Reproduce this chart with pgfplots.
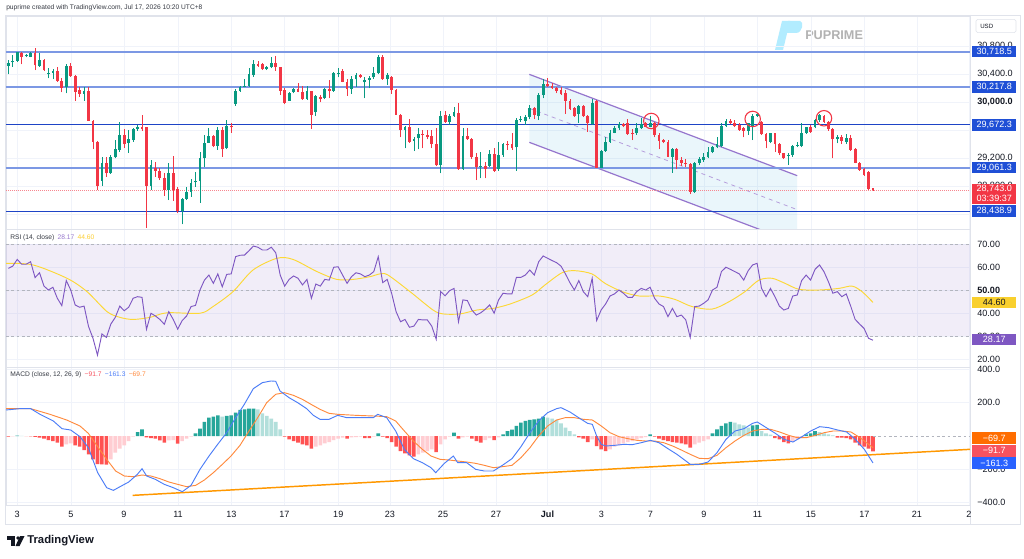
\documentclass[border=0pt]{standalone}
\usepackage{pgfplots}
\pgfplotsset{compat=1.18}
\usepackage{pgfplotstable}
\usepackage{fontspec}
\setmainfont{Liberation Sans}
\definecolor{cup}{HTML}{089981}
\definecolor{cdown}{HTML}{F23645}
\definecolor{hdg}{HTML}{26A69A}
\definecolor{hlg}{HTML}{B2DFDB}
\definecolor{hr}{HTML}{FF5252}
\definecolor{hp}{HTML}{FFCDD2}
\definecolor{rsic}{HTML}{7E57C2}
\definecolor{rsima}{HTML}{FDD835}
\definecolor{mblue}{HTML}{4C7DF7}
\definecolor{msig}{HTML}{FF8A3D}
\definecolor{gridc}{HTML}{F0F3FA}
\definecolor{bordc}{HTML}{E0E3EB}
\definecolor{txt}{HTML}{131722}
\definecolor{lvlL}{HTML}{7C98E4}
\definecolor{lvlD}{HTML}{1E44C6}
\definecolor{boxb}{HTML}{1F4FD6}
\definecolor{chan}{HTML}{9575CD}
\definecolor{chfill}{HTML}{33A7D8}
\definecolor{trend}{HTML}{FF9800}
\definecolor{ryel}{HTML}{F9D02E}
\definecolor{morange}{HTML}{FF6D00}
\definecolor{mred}{HTML}{F7525F}
\definecolor{mbox}{HTML}{2962FF}
\definecolor{dashg}{HTML}{B2B5BE}

\pgfplotsset{
  tvaxis/.style={
    scale only axis, width=723pt, xmin=0.477, xmax=216.77,
    anchor=south west, scaled y ticks=false, scaled x ticks=false,
    axis line style={draw=bordc, line width=0.6pt},
    xtick={2.95,15.06,26.95,39.07,51.07,62.96,75.03,86.63,98.53,110.42,121.97,134.09,145.08,157.09,169.09,181.09,193.09,204.87,216.54},
    xmajorgrids, ymajorgrids, grid style={draw=gridc, line width=0.5pt},
    major tick length=0pt, yticklabel pos=right,
    tick label style={font=\fontsize{6.8}{8}\selectfont, text=txt},
    yticklabel style={anchor=west, xshift=2pt},
    /pgf/number format/assume math mode=true,
  },
  wick/.style={draw=none, mark=none, forget plot,
    error bars/.cd, y dir=plus, y explicit, error mark=none,
    error bar style={line width=0.6pt, draw=#1}},
  body/.style={draw=none, mark=none, forget plot,
    error bars/.cd, y dir=plus, y explicit, error mark=none,
    error bar style={line width=2.1pt, draw=#1}},
  hbar/.style={ybar, bar width=2.7pt, bar shift=0pt, fill=#1, draw=none, forget plot},
}
\tikzset{pbox/.style={fill=#1, text=white, font=\fontsize{6.8}{7}\selectfont, inner sep=0pt, minimum width=33pt, minimum height=8.75pt, anchor=west}}

% up candles: index open high low close
\pgfplotstableread{
n o h l c
1 30518 30599 30395 30561
2 30566 30671 30504 30585
3 30590 30718 30575 30714
5 30652 30680 30637 30661
6 30647 30718 30637 30704
8 30518 30695 30504 30599
10 30395 30480 30337 30414
11 30418 30466 30323 30442
14 30218 30537 30123 30518
18 30114 30218 30018 30161
22 28875 29218 28804 29123
24 28980 29242 28971 29209
25 29209 29456 29195 29323
26 29314 29718 29290 29528
28 29418 29599 29275 29466
29 29456 29623 29433 29609
30 29609 29671 29590 29647
33 28799 29171 28742 29099
37 28742 29133 28599 28990
40 28442 28623 28252 28614
41 28614 28790 28599 28718
42 28718 28895 28647 28847
43 28852 29004 28790 28875
44 28875 29290 28561 29195
45 29195 29528 29066 29409
46 29418 29623 29418 29518
48 29371 29637 29314 29599
50 29337 29742 29323 29656
52 29971 30180 29947 30161
53 30161 30228 30147 30218
54 30218 30323 30209 30228
55 30228 30480 30218 30395
56 30385 30599 30361 30542
59 30466 30514 30456 30495
60 30495 30647 30480 30561
64 30018 30147 30014 30133
65 30137 30204 30123 30190
68 30037 30228 30028 30156
70 29856 30099 29799 30085
72 30052 30195 30037 30180
74 30161 30433 30147 30409
75 30399 30480 30352 30418
78 30180 30371 30114 30323
79 30323 30409 30218 30385
81 30280 30361 30052 30314
82 30314 30371 30195 30347
83 30352 30504 30328 30409
84 30409 30671 30395 30647
86 30323 30409 30242 30385
90 29599 29656 29337 29637
92 29447 29504 29299 29466
93 29480 29623 29323 29542
98 29099 29875 28980 29799
100 29718 29828 29671 29799
101 29799 29933 29790 29861
103 29037 29623 29028 29514
107 29066 29290 28909 29085
109 29085 29314 29066 29256
111 29037 29433 29018 29242
112 29242 29418 29218 29399
115 29352 29775 29014 29742
116 29742 29799 29718 29752
117 29728 29814 29671 29790
118 29790 29956 29752 29909
120 29799 30123 29742 30099
121 30099 30323 30052 30256
129 29828 29956 29704 29942
132 29685 30037 29671 29990
134 29061 29314 29052 29299
135 29299 29504 29290 29433
136 29433 29599 29418 29561
137 29561 29656 29552 29623
138 29623 29718 29599 29685
142 29552 29695 29528 29623
143 29623 29766 29609 29685
145 29647 29799 29637 29704
150 29218 29337 28990 29323
155 28718 29147 28704 29133
156 29133 29218 29099 29180
157 29171 29266 29147 29218
158 29209 29352 29195 29290
159 29290 29371 29266 29361
160 29352 29504 29337 29399
161 29371 29695 29352 29656
162 29656 29752 29647 29733
167 29590 29704 29528 29695
168 29656 29828 29456 29799
169 29799 29837 29790 29828
172 29433 29561 29409 29552
176 29233 29266 29099 29242
177 29242 29385 29218 29371
178 29371 29433 29352 29385
179 29371 29704 29352 29561
180 29561 29647 29542 29637
182 29637 29752 29623 29742
183 29742 29828 29718 29814
187 29466 29528 29409 29504
189 29433 29542 29399 29480
}\cup

% down candles
\pgfplotstableread{
n o h l c
4 30704 30718 30537 30647
7 30704 30766 30456 30523
9 30599 30609 30447 30456
12 30442 30504 30290 30304
13 30299 30337 30137 30204
15 30518 30561 30361 30371
16 30371 30385 30018 30147
17 30171 30218 30075 30114
19 30161 30218 29728 29733
20 29733 29742 29323 29433
21 29433 29442 28742 28804
23 29123 29209 28933 28980
27 29528 29609 29347 29395
31 29637 29814 29590 29609
32 29637 29647 28204 28799
34 29061 29147 28933 29014
35 29014 29052 28885 28909
36 28918 28980 28661 28742
38 28990 29228 28590 28742
39 28752 28790 28409 28442
47 29518 29528 29352 29371
49 29599 29637 29218 29323
51 29656 29695 29561 29637
57 30542 30590 30504 30518
58 30542 30552 30456 30466
61 30561 30661 30447 30495
62 30495 30504 30099 30161
63 30171 30195 29966 29990
66 30185 30275 30137 30147
67 30147 30228 30028 30037
69 30156 30161 29618 29818
71 30075 30099 29995 30042
73 30180 30314 30052 30161
76 30447 30466 30280 30290
77 30290 30323 30090 30180
80 30385 30399 30337 30352
85 30647 30671 30314 30323
87 30361 30371 30114 30171
88 30171 30180 29814 29818
89 29818 29828 29495 29599
91 29637 29756 29418 29433
94 29537 29599 29337 29528
95 29528 29599 29466 29504
96 29514 29599 29337 29395
97 29395 29623 29085 29099
99 29814 29875 29704 29718
102 29847 29990 29028 29037
104 29514 29623 29456 29466
105 29466 29480 29185 29209
106 29209 29266 28885 29075
108 29085 29147 28909 29037
110 29256 29337 29004 29014
113 29399 29447 29314 29385
114 29399 29561 29314 29337
119 29909 29933 29752 29814
122 30256 30337 30218 30228
123 30228 30275 30185 30195
124 30195 30218 30123 30161
125 30171 30218 30099 30109
126 30133 30171 29828 30014
127 30018 30037 29885 29895
128 29909 29933 29790 29799
130 29942 29956 29790 29799
131 29799 29814 29575 29695
133 30014 30028 29052 29061
139 29685 29695 29637 29656
140 29695 29752 29528 29542
141 29561 29609 29456 29542
144 29695 29718 29637 29647
146 29704 29718 29495 29528
147 29528 29552 29323 29447
148 29456 29466 29409 29433
149 29433 29456 29209 29218
151 29323 29337 29037 29171
152 29171 29209 29085 29123
153 29133 29180 29075 29114
154 29114 29123 28685 28718
163 29733 29752 29685 29695
164 29704 29742 29637 29656
165 29671 29695 29590 29599
166 29623 29647 29495 29590
170 29718 29733 29528 29542
171 29542 29552 29337 29447
173 29552 29561 29290 29399
174 29399 29409 29242 29266
175 29266 29275 29180 29195
181 29647 29671 29561 29575
184 29799 29814 29704 29718
185 29718 29733 29590 29609
186 29609 29623 29195 29466
188 29504 29528 29399 29447
190 29480 29528 29304 29314
191 29323 29337 29123 29133
192 29133 29147 29018 29028
193 29037 29052 28947 28956
194 29004 29018 28742 28752
195 28766 28775 28733 28743
}\cdn

\pgfplotstableread{
n v
1 59.4
2 60.4
3 63.3
4 61.2
5 61.2
6 62.3
7 55.4
8 57.5
9 51.7
10 50
11 51.2
12 46.4
13 43.2
14 54.1
15 50
16 43.5
17 42.5
18 43
19 34.1
20 29
21 21.7
22 30.9
23 29.4
24 35.2
25 38.1
26 43
27 41
28 42.5
29 46.4
30 47.1
31 46.8
32 32.9
33 39.9
34 38.7
35 37.2
36 35.1
37 40.6
38 37.2
39 33
40 36.7
41 38.7
42 42.8
43 43.3
44 50
45 54.3
46 56.5
47 52.9
48 57
49 51.4
50 56.8
51 57
52 64.5
53 65.1
54 65.2
55 67.1
56 69.1
57 68.6
58 67.4
59 67.4
60 68.6
61 66.2
62 56.5
63 51.7
64 54.6
65 56.1
66 55.1
67 52.2
68 54.6
69 46.4
70 52.6
71 51.7
72 54.6
73 54.3
74 59.9
75 60.1
76 56.5
77 52.9
78 55.8
79 57.5
80 57
81 55.8
82 56.5
83 58
84 64.5
85 53.2
86 54.6
87 48.6
88 40.6
89 36.2
90 37.2
91 33.8
92 34.3
93 37.2
94 37
95 37
96 34.3
97 28.6
98 49.3
99 47.5
100 49.7
101 50.7
102 36.2
103 45.7
104 45.4
105 41.3
106 39.1
107 40.1
108 41.6
109 43.5
110 39.9
111 45.7
112 48.6
113 48.3
114 48.3
115 55.5
116 55.5
117 56.5
118 58.7
119 56.5
120 62.3
121 64.8
122 63.8
123 62.8
124 61.9
125 60.4
126 57
127 53.2
128 50
129 54.1
130 49.3
131 47.1
132 55.1
133 36.7
134 41.3
135 43.9
136 47.4
137 48.3
138 50
139 48.6
140 46.8
141 46.8
142 49.3
143 50.7
144 50
145 51.2
146 46.4
147 43.9
148 42.8
149 38.4
150 42
151 38.4
152 39.1
153 37
154 29.4
155 42.8
156 43
157 44.2
158 45.7
159 50
160 51.2
161 58
162 59.9
163 59
164 58
165 57
166 54.3
167 58.4
168 60.9
169 61.6
170 50.7
171 47.1
172 50.7
173 47.1
174 43
175 41.3
176 42
177 47.4
178 47.8
179 54.1
180 56.5
181 54.3
182 59
183 60.9
184 58
185 53.6
186 48.6
187 49.3
188 47.1
189 48.3
190 43
191 37.2
192 35.2
193 33.3
194 29
195 28.17
}\rsi

\begin{document}
\begin{tikzpicture}
\useasboundingbox (0,0) rectangle (768pt,418.5pt);
\fill[white] (0,0) rectangle (768pt,418.5pt);

\begin{scope}[shift={(0pt,418.5pt)}, x=0.75pt, y=-0.75pt]
\draw[bordc, line width=0.6pt] (5,15) rectangle (1020,524);
\draw[bordc, line width=0.6pt] (970,15) -- (970,524);
\node[anchor=west, inner sep=0pt, font=\fontsize{5}{6}\selectfont, text=txt!85] at (6,8) {puprime created with TradingView.com, Jul 17, 2026 10:20 UTC+8};
\node[draw=bordc, rounded corners=1.2pt, minimum width=30pt, minimum height=10pt, inner sep=0pt] at (996,26) {};
\node[anchor=west, inner sep=0pt, font=\fontsize{4.6}{5}\selectfont, text=txt] at (980,26) {USD};
\fill[blue!25!cyan!30!white] (775,50) -- (783,50) -- (790,21) -- (782,21) -- cycle;
\fill[blue!25!cyan!30!white] (788,21) -- (800,21) .. controls (804,21) and (803,33) .. (796,33) -- (786,33) -- cycle;
\node[anchor=west, inner sep=0pt, font=\fontsize{9.5}{10}\selectfont\bfseries, text=black!30] at (805,35) {PUPRIME};
\fill[txt] (7,536) rectangle (15,539.5);
\fill[txt] (11,536) rectangle (15,546);
\fill[txt] (18,538) circle (1.9);
\fill[txt] (20,536) -- (24.5,536) -- (19.5,546) -- (15.5,546) -- cycle;
\node[anchor=west, inner sep=0pt, font=\fontsize{8.5}{9}\selectfont\bfseries, text=txt] at (27,541) {TradingView};
\end{scope}

% ---------------- price panel ----------------
\begin{axis}[tvaxis, at={(4.5pt,246.75pt)}, height=159.75pt,
  ymin=28185, ymax=31228, xticklabels={},
  ytick={28400,28800,29200,29600,30000,30400,30800},
  yticklabels={{},{28,800.0},{29,200.0},{},{\textbf{30,000.0}},{30,400.0},{30,800.0}}]
\addplot[fill=chfill, fill opacity=0.1, draw=none, forget plot] coordinates {(117.9,30394) (178.0,28947) (178.0,27976) (117.9,29423)};
\addplot[chan, line width=0.9pt, forget plot] coordinates {(117.9,30394) (178.0,28947)};
\addplot[chan, line width=0.9pt, forget plot] coordinates {(117.9,29423) (178.0,27976)};
\addplot[chan!70, line width=0.6pt, dashed, forget plot] coordinates {(117.9,29908.5) (178.0,28461.5)};
\addplot[lvlL, line width=1.4pt, forget plot] coordinates {(0.477,30718.5) (216.77,30718.5)};
\addplot[lvlL, line width=1.4pt, forget plot] coordinates {(0.477,30217.8) (216.77,30217.8)};
\addplot[lvlD, line width=0.9pt, forget plot] coordinates {(0.477,29672.3) (216.77,29672.3)};
\addplot[lvlL, line width=1.4pt, forget plot] coordinates {(0.477,29061.3) (216.77,29061.3)};
\addplot[lvlD, line width=0.9pt, forget plot] coordinates {(0.477,28438.9) (216.77,28438.9)};
\addplot[cdown!60, line width=0.5pt, densely dotted, forget plot] coordinates {(0.477,28743) (216.77,28743)};
% candles: wicks then bodies
\addplot[wick=cup] table[x=n, y=l, y error plus expr={\thisrow{h}-\thisrow{l}}] {\cup};
\addplot[wick=cdown] table[x=n, y=l, y error plus expr={\thisrow{h}-\thisrow{l}}] {\cdn};
\addplot[body=cup] table[x=n, y=o, y error plus expr={max(\thisrow{c}-\thisrow{o},12)}] {\cup};
\addplot[body=cdown] table[x=n, y=c, y error plus expr={max(\thisrow{o}-\thisrow{c},12)}] {\cdn};
\addplot[only marks, mark=o, mark size=5.8pt, mark options={draw=cdown, line width=0.8pt}] coordinates {(145.26,29728) (168.01,29757) (184.01,29767)};
\coordinate (b1) at (axis cs:216.77,30718.5);
\coordinate (b2) at (axis cs:216.77,30217.8);
\coordinate (b3) at (axis cs:216.77,29672.3);
\coordinate (b4) at (axis cs:216.77,29061.3);
\coordinate (b5) at (axis cs:216.77,28438.9);
\coordinate (bc) at (axis cs:216.77,28833);
\end{axis}
\node[pbox=boxb] at ([xshift=1.5pt]b1) {30,718.5};
\node[pbox=boxb] at ([xshift=1.5pt]b2) {30,217.8};
\node[pbox=boxb] at ([xshift=1.5pt]b3) {29,672.3};
\node[pbox=boxb] at ([xshift=1.5pt]b4) {29,061.3};
\node[pbox=boxb] at ([xshift=1.5pt]b5) {28,438.9};
\node[pbox=cdown, anchor=north west, minimum height=14.7pt, align=center, font=\fontsize{6.8}{7.4}\selectfont] at ([xshift=1.5pt]bc) {28,743.0\\03:39:37};

% ---------------- RSI panel ----------------
\begin{axis}[tvaxis, at={(4.5pt,143.25pt)}, height=103.5pt,
  ymin=16.52, ymax=76.52, xticklabels={},
  ytick={20,30,40,50,60,70},
  yticklabels={20.00,30.00,40.00,\textbf{50.00},60.00,70.00}]
\addplot[fill=rsic, fill opacity=0.1, draw=none, forget plot] coordinates {(0.477,30) (216.77,30) (216.77,70) (0.477,70)};
\addplot[dashg, line width=0.5pt, dash pattern=on 2pt off 2pt, forget plot] coordinates {(0.477,70) (216.77,70)};
\addplot[dashg, line width=0.5pt, dash pattern=on 2pt off 2pt, forget plot] coordinates {(0.477,50) (216.77,50)};
\addplot[dashg, line width=0.5pt, dash pattern=on 2pt off 2pt, forget plot] coordinates {(0.477,30) (216.77,30)};
\addplot[rsima, line width=0.7pt, smooth, forget plot] coordinates {(0.48,61.6) (6.54,60.9) (14.16,55.1) (18.65,49.3) (23.14,40.6) (26.05,38.1) (28.97,37.2) (32.79,38.1) (36.6,40.1) (44.0,39.9) (46.92,42.8) (51.41,49.3) (55.9,58.7) (61.28,63.8) (64.87,63.3) (70.26,58) (74.74,54.6) (78.33,54.6) (82.15,55.8) (84.39,57) (86.18,56.5) (91.12,49.3) (96.28,41.3) (98.53,39.6) (102.34,39.6) (106.15,41.3) (109.74,42) (113.56,43.9) (118.5,47.8) (121.41,52.2) (125.23,57.5) (128.14,58.4) (131.95,57) (134.87,52.9) (138.69,49.3) (142.5,47.4) (146.99,47.4) (150.58,45.9) (154.39,42.8) (158.88,41.7) (162.69,44.9) (166.28,49.3) (169.42,54.3) (172.34,55.1) (175.26,52.9) (178.4,50.3) (182.89,50) (187.37,50.7) (190.29,51.7) (192.53,49.3) (195,44.6)};
\addplot[rsic, line width=0.7pt, forget plot] table[x=n, y=v] {\rsi};
\coordinate (r1) at (axis cs:216.77,44.6);
\coordinate (r2) at (axis cs:216.77,28.5);
\end{axis}
\node[pbox=ryel, text=txt] at ([xshift=1.5pt]r1) {44.60};
\node[pbox=rsic] at ([xshift=1.5pt]r2) {28.17};

% ---------------- MACD panel ----------------
\begin{axis}[tvaxis, at={(4.5pt,39.75pt)}, height=103.5pt,
  ymin=-413.8, ymax=413.8,
  xticklabels={3,5,9,11,13,17,19,23,25,27,\textbf{Jul},3,7,9,11,15,17,21,2},
  xticklabel style={yshift=-1pt},
  ytick={-400,-200,200,400},
  yticklabels={−400.0,−200.0,200.0,400.0}]
\addplot[hbar=hdg] coordinates {(3,2) (30,24) (31,40) (43,16) (44,44) (45,84) (46,110) (47,116) (48,124) (50,120) (51,124) (52,140) (53,156) (54,160) (55,164) (56,164) (84,16) (101,20) (112,10) (113,30) (114,38) (115,60) (116,80) (117,90) (118,96) (119,100) (120,104) (121,116) (145,10) (159,16) (160,40) (161,60) (162,76) (163,84) (168,64) (169,66) (180,10) (181,16) (182,30)};
\addplot[hbar=hlg] coordinates {(4,0.5) (49,116) (57,160) (58,136) (59,120) (60,104) (61,84) (62,40) (122,110) (123,104) (124,96) (125,76) (126,50) (127,30) (128,10) (164,80) (165,70) (166,64) (167,50) (170,30) (171,16) (172,8) (183,24) (184,16) (185,10) (186,4)};
\addplot[hbar=hr] coordinates {(1,-4) (5,-1) (6,-2) (7,-5) (8,-10) (9,-16) (10,-24) (11,-30) (12,-40) (13,-64) (16,-56) (17,-64) (18,-84) (19,-110) (20,-140) (21,-168) (22,-170) (23,-172) (32,-8) (33,-12) (34,-16) (35,-26) (36,-40) (39,-46) (63,-4) (64,-20) (65,-30) (66,-40) (67,-50) (68,-56) (69,-76) (77,-16) (81,-12) (82,-12) (85,-4) (86,-12) (87,-36) (88,-64) (89,-90) (90,-104) (91,-116) (92,-124) (97,-96) (102,-16) (105,-16) (106,-30) (107,-40) (110,-24) (129,-8) (130,-16) (131,-36) (133,-60) (134,-80) (135,-90) (146,-4) (147,-16) (148,-24) (149,-30) (150,-36) (151,-40) (152,-44) (153,-50) (154,-70) (173,-12) (174,-20) (175,-36) (176,-44) (187,-10) (188,-10) (189,-12) (190,-20) (191,-40) (192,-56) (193,-64) (194,-76) (195,-91.7)};
\addplot[hbar=hp] coordinates {(2,-2) (14,-50) (15,-44) (24,-140) (25,-100) (26,-76) (27,-56) (28,-30) (29,-4) (37,-26) (38,-24) (40,-30) (41,-16) (42,-4) (70,-64) (71,-56) (72,-44) (73,-36) (74,-24) (75,-16) (76,-10) (78,-8) (79,-6) (80,-4) (83,-4) (93,-110) (94,-100) (95,-90) (96,-80) (98,-50) (99,-20) (100,-4) (103,-8) (104,-4) (108,-24) (109,-12) (111,-8) (132,-20) (136,-80) (137,-64) (138,-56) (139,-44) (140,-36) (141,-30) (142,-20) (143,-12) (144,-6) (155,-50) (156,-40) (157,-30) (158,-20) (177,-32) (178,-20) (179,-12)};
\addplot[dashg, line width=0.5pt, dash pattern=on 2pt off 2pt, forget plot] coordinates {(195,0) (216.77,0)};
\addplot[trend, line width=1.1pt, forget plot] coordinates {(28.9,-356) (216.77,-80)};
\addplot[msig, line width=0.7pt, forget plot] coordinates {(0.48,164) (6.01,164) (10.35,130) (14.09,96) (17.08,60) (18.95,16) (21.05,-64) (23.07,-140) (25.08,-210) (27.03,-240) (29.05,-244) (31.0,-234) (33.01,-240) (35.03,-256) (37.05,-276) (39.0,-290) (41.01,-304) (43.03,-296) (44.98,-264) (47.0,-220) (49.02,-170) (50.96,-120) (52.98,-56) (55.0,30) (56.95,110) (58.97,200) (60.99,250) (62.93,260) (64.95,244) (66.97,220) (68.91,190) (70.93,160) (72.95,136) (74.9,130) (78.94,124) (82.9,120) (85.89,116) (87.91,90) (89.86,30) (91.88,-30) (93.89,-80) (95.84,-120) (97.86,-140) (99.88,-144) (101.82,-150) (103.84,-156) (105.86,-164) (107.81,-176) (109.83,-190) (111.84,-184) (114.0,-176) (116.02,-130) (118.04,-70) (119.98,0) (122.0,60) (124.02,96) (125.97,110) (127.99,110) (130.01,100) (132.03,96) (134.04,60) (135.99,20) (138.01,-4) (140.03,-16) (142.05,-26) (143.99,-30) (146.01,-30) (148.03,-40) (150.05,-60) (152.0,-84) (154.01,-110) (156.03,-134) (157.98,-136) (160.0,-116) (162.02,-70) (164.04,-30) (166.06,4) (168.0,30) (170.02,40) (172.04,40) (174.06,24) (176.08,4) (178.02,-10) (180.04,-10) (182.06,4) (184.08,20) (186.03,30) (188.05,30) (190.07,24) (192.09,-10) (194.03,-50) (195,-69.7)};
\addplot[mblue, line width=0.7pt, forget plot] coordinates {(0.48,156) (3.62,164) (6.01,164) (8.11,130) (11.1,90) (13.04,44) (14.99,36) (17.08,-4) (18.95,-70) (21.05,-220) (23.07,-310) (24.56,-326) (26.06,-304) (28.0,-276) (29.95,-230) (31.0,-196) (32.04,-240) (33.99,-260) (36.0,-290) (38.02,-310) (40.04,-334) (41.99,-296) (44.0,-200) (46.03,-120) (47.97,-50) (49.99,20) (52.01,110) (53.95,190) (55.97,284) (57.99,320) (59.94,330) (60.99,328) (61.96,270) (63.98,230) (65.92,200) (67.94,164) (69.44,124) (70.93,100) (72.95,100) (74.9,124) (76.92,110) (78.94,110) (80.88,110) (82.9,110) (83.87,130) (85.89,110) (87.91,30) (89.86,-80) (91.88,-136) (93.89,-160) (95.84,-190) (96.89,-220) (98.83,-164) (100.85,-120) (101.82,-160) (103.84,-160) (105.86,-200) (107.81,-210) (109.83,-210) (111.84,-176) (114.0,-136) (116.02,-64) (118.04,20) (119.98,90) (122.0,140) (124.02,164) (125.0,170) (127.01,144) (128.96,110) (130.98,76) (132.03,70) (133.0,0) (134.04,-50) (135.02,-60) (137.04,-56) (139.06,-50) (141.0,-52) (143.02,-40) (145.04,-26) (146.98,-40) (149.0,-76) (151.02,-110) (153.04,-150) (154.01,-170) (156.03,-170) (157.98,-156) (160.0,-100) (162.02,-20) (164.04,30) (166.06,44) (168.0,76) (169.05,84) (171.07,50) (173.09,16) (175.03,-20) (177.05,-36) (179.07,-4) (181.02,30) (183.04,56) (185.05,50) (187.07,36) (189.09,24) (191.04,-20) (193.06,-80) (195,-161.3)};
\coordinate (m1) at (axis cs:216.77,-13.8);
\coordinate (m2) at (axis cs:216.77,-88.8);
\coordinate (m3) at (axis cs:216.77,-163.7);
\end{axis}
\node[pbox=morange] at ([xshift=1.5pt]m1) {−69.7};
\node[pbox=mred] at ([xshift=1.5pt]m2) {−91.7};
\node[pbox=mbox] at ([xshift=1.5pt]m3) {−161.3};

\begin{scope}[shift={(0pt,418.5pt)}, x=0.75pt, y=-0.75pt]
\node[anchor=west, inner sep=0pt, font=\fontsize{5}{6}\selectfont, text=txt!85] at (10,238) {RSI (14, close)\enspace{\color{rsic!80}28.17}\enspace{\color{rsima!90!orange}44.60}};
\node[anchor=west, inner sep=0pt, font=\fontsize{5}{6}\selectfont, text=txt!85] at (10,375) {MACD (close, 12, 26, 9)\enspace{\color{mred}−91.7}\enspace{\color{mblue}−161.3}\enspace{\color{msig}−69.7}};
\end{scope}
\end{tikzpicture}
\end{document}
